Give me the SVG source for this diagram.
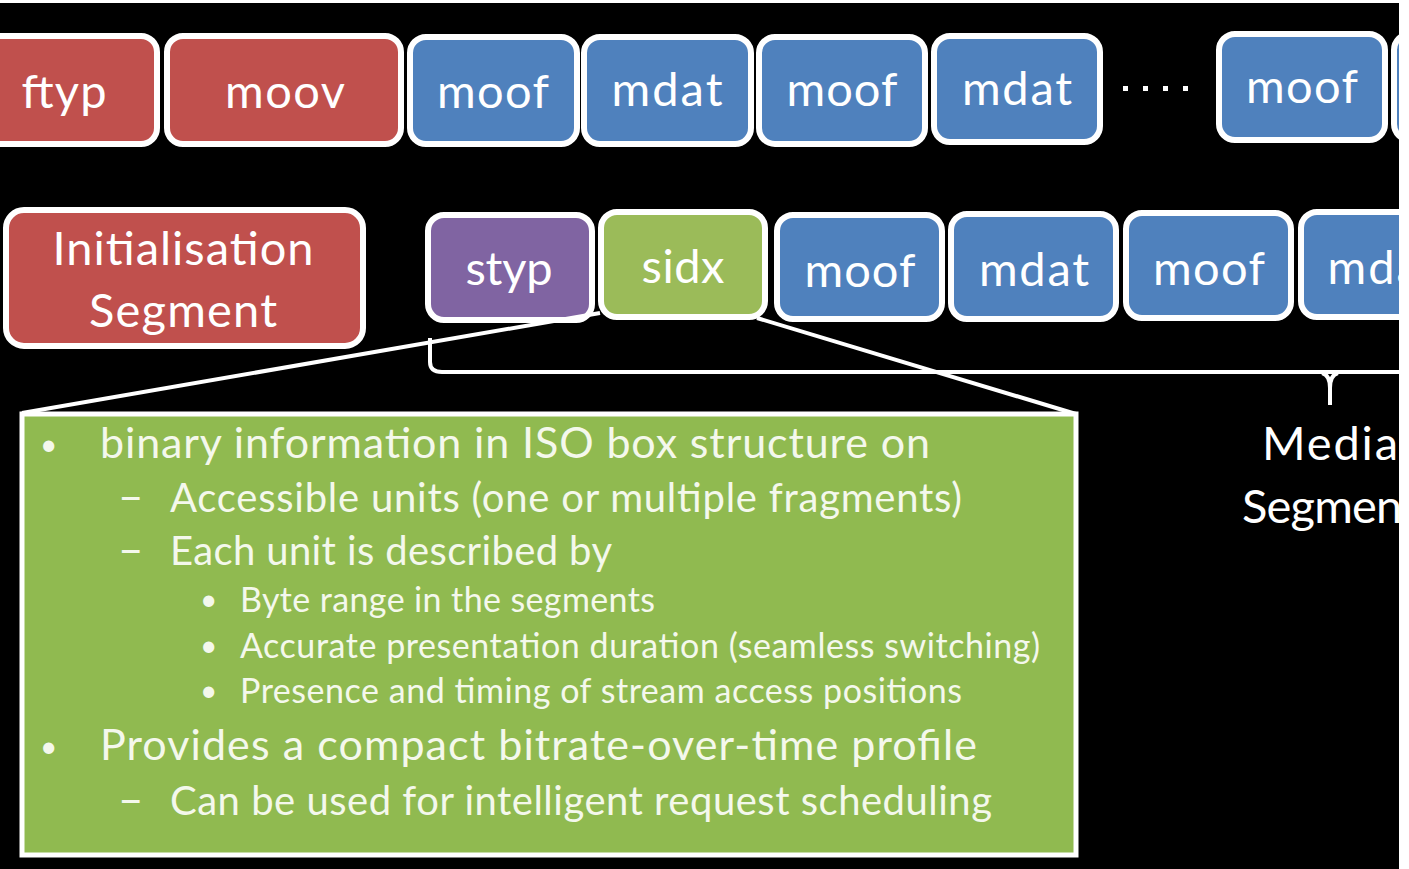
<svg xmlns="http://www.w3.org/2000/svg" width="1409" height="869" viewBox="0 0 1409 869">
<defs>
<style>
.box{stroke:#fff;stroke-width:6}
.red{fill:#c0504d}
.blue{fill:#4f81bd}
.purple{fill:#8064a2}
.green{fill:#9bbb59}
.lbl{font-family:Lato,"Open Sans",sans-serif;font-size:47px;fill:#fff;text-anchor:middle}
.t{font-family:Lato,"Open Sans",sans-serif;fill:#f4f8ec}
.l1{font-size:43px}
.l2{font-size:40px}
.l3{font-size:34px}
.b{font-size:30px}
.d{font-size:44px}
.ln{stroke:#fff;stroke-width:4;fill:none}
</style>
<clipPath id="c"><rect x="0" y="3" width="1399" height="866"/></clipPath>
</defs>
<rect width="1409" height="869" fill="#fff"/>
<rect x="0" y="3" width="1399" height="866" fill="#000"/>
<g clip-path="url(#c)">
<g id="ftyp"><rect class="box red" x="-20" y="36" width="177" height="108" rx="16"/><text class="lbl" x="64" y="108" textLength="85">ftyp</text></g>
<g id="moov"><rect class="box red" x="167" y="36" width="234" height="108" rx="16"/><text class="lbl" x="285" y="108" textLength="120">moov</text></g>
<g id="moof1"><rect class="box blue" x="410" y="37" width="167" height="107" rx="16"/><text class="lbl" x="493" y="108" textLength="112">moof</text></g>
<g id="mdat1"><rect class="box blue" x="584" y="37" width="167" height="107" rx="16"/><text class="lbl" x="667" y="106" textLength="111">mdat</text></g>
<g id="moof2"><rect class="box blue" x="759" y="37" width="166" height="107" rx="16"/><text class="lbl" x="842" y="106" textLength="111">moof</text></g>
<g id="mdat2"><rect class="box blue" x="934" y="36" width="166" height="106" rx="16"/><text class="lbl" x="1017" y="105" textLength="110">mdat</text></g>
<g id="dots" fill="#fff"><rect x="1123" y="86" width="5" height="5"/><rect x="1143" y="86" width="5" height="5"/><rect x="1163" y="86" width="5" height="5"/><rect x="1183" y="86" width="5" height="5"/></g>
<g id="moof3"><rect class="box blue" x="1219" y="34" width="166" height="106" rx="16"/><text class="lbl" x="1302" y="103" textLength="112">moof</text></g>
<g id="mdat3"><rect class="box blue" x="1394" y="34" width="166" height="106" rx="16"/></g>

<g id="init"><rect class="box red" x="6" y="210" width="357" height="136" rx="18"/><text class="lbl" x="183" y="265" textLength="261">Initialisation</text><text class="lbl" x="183" y="327" textLength="188">Segment</text></g>
<g id="styp"><rect class="box purple" x="428" y="215" width="164" height="105" rx="16"/><text class="lbl" x="509" y="285" textLength="87">styp</text></g>
<g id="sidx"><rect class="box green" x="601" y="212" width="164" height="105" rx="16"/><text class="lbl" x="683" y="283" textLength="83">sidx</text></g>
<g id="moof4"><rect class="box blue" x="777" y="215" width="165" height="104" rx="16"/><text class="lbl" x="860" y="287" textLength="111">moof</text></g>
<g id="mdat4"><rect class="box blue" x="951" y="214" width="165" height="105" rx="16"/><text class="lbl" x="1034" y="286" textLength="110">mdat</text></g>
<g id="moof5"><rect class="box blue" x="1126" y="213" width="165" height="105" rx="16"/><text class="lbl" x="1209" y="285" textLength="112">moof</text></g>
<g id="mdat5"><rect class="box blue" x="1301" y="212" width="165" height="105" rx="16"/><text class="lbl" x="1383" y="284" textLength="111">mdat</text></g>

<g id="connectors">
<path class="ln" d="M430 338 L430 362 Q430 372 442 372 L1399 372"/>
<path class="ln" d="M1322 373 Q1330 375 1330 388 L1330 405 M1338 373 Q1330 375 1330 388"/>
<path class="ln" d="M600 313 L22 413"/>
<path class="ln" d="M757 318 L1076 414"/>
</g>

<g id="media"><text class="lbl" x="1330" y="460" textLength="136">Media</text><text class="lbl" x="1330" y="523" textLength="176">Segment</text></g>

<g id="callout">
<rect x="22" y="414" width="1054" height="441" fill="#90ba50" stroke="#fff" stroke-width="5"/>
<g class="t">
<text class="b" x="40" y="455">•</text>
<text class="l1" x="100" y="458" textLength="830">binary information in ISO box structure on</text>
<text class="d" x="118" y="512">–</text>
<text class="l2" x="170" y="512" textLength="792">Accessible units (one or multiple fragments)</text>
<text class="d" x="118" y="565">–</text>
<text class="l2" x="170" y="565" textLength="442">Each unit is described by</text>
<text class="b" x="200" y="610">•</text>
<text class="l3" x="240" y="612" textLength="415">Byte range in the segments</text>
<text class="b" x="200" y="656">•</text>
<text class="l3" x="240" y="658" textLength="800">Accurate presentation duration (seamless switching)</text>
<text class="b" x="200" y="701">•</text>
<text class="l3" x="240" y="703" textLength="722">Presence and timing of stream access positions</text>
<text class="b" x="40" y="757">•</text>
<text class="l1" x="100" y="760" textLength="877">Provides a compact bitrate-over-time profile</text>
<text class="d" x="118" y="815">–</text>
<text class="l2" x="170" y="815" textLength="822">Can be used for intelligent request scheduling</text>
</g>
</g>
</g>
</svg>
